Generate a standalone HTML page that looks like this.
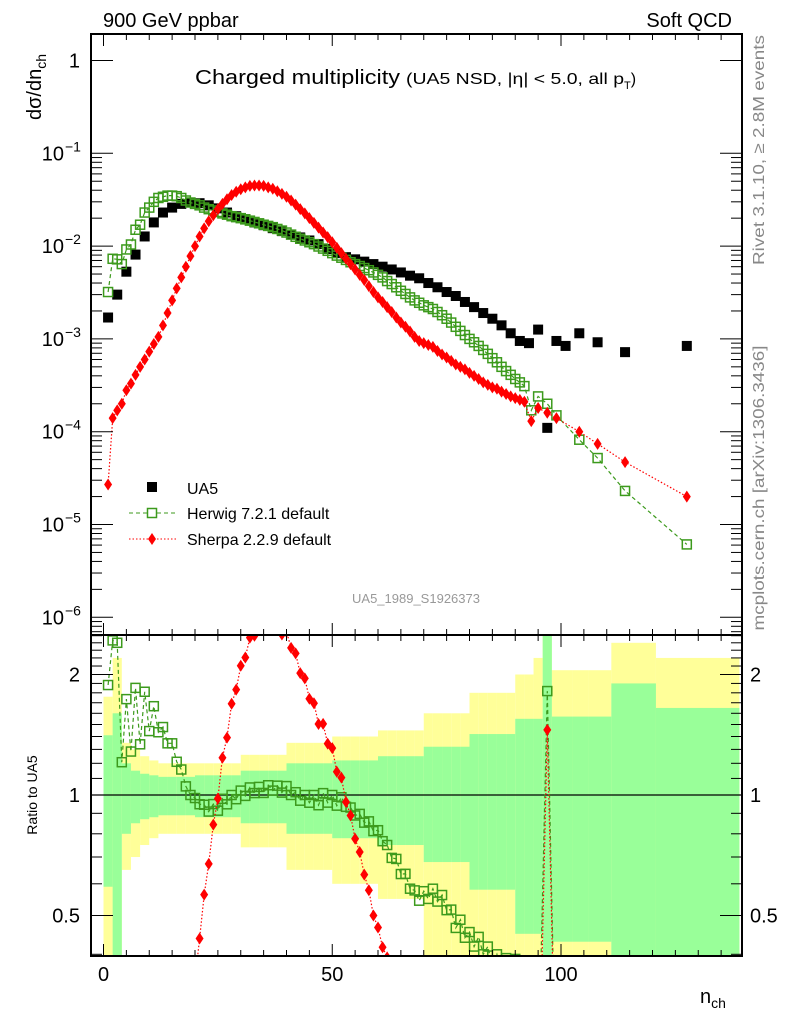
<!DOCTYPE html>
<html><head><meta charset="utf-8"><style>
html,body{margin:0;background:#fff;width:786px;height:1024px;overflow:hidden;}
svg{display:block;font-family:"Liberation Sans",Arial,sans-serif;}
</style></head><body>
<svg id="chart" width="786" height="1024" viewBox="0 0 786 1024" xmlns="http://www.w3.org/2000/svg">
<defs>
<clipPath id="cm"><rect x="91" y="34" width="651" height="601"/></clipPath>
<clipPath id="cr"><rect x="91" y="635" width="651" height="321"/></clipPath>
</defs>
<g id="bands" clip-path="url(#cr)"></g>
<g id="main" clip-path="url(#cm)"></g>
<g id="ratio" clip-path="url(#cr)"></g>
<g id="axes"></g>
<text x="103" y="27" font-size="20">900 GeV ppbar</text>
<text x="732" y="27" font-size="20" text-anchor="end">Soft QCD</text>
<text x="195" y="84" font-size="20" textLength="205" lengthAdjust="spacingAndGlyphs">Charged multiplicity</text>
<text x="406" y="84" font-size="16"><tspan textLength="218" lengthAdjust="spacingAndGlyphs">(UA5 NSD, |η| &lt; 5.0, all p</tspan><tspan font-size="11" dy="5">T</tspan><tspan dy="-5">)</tspan></text>
<text x="416" y="603" font-size="13" fill="#999" text-anchor="middle">UA5_1989_S1926373</text>
<text transform="translate(764,150) rotate(-90)" font-size="16" fill="#888" text-anchor="middle" textLength="230" lengthAdjust="spacingAndGlyphs">Rivet 3.1.10, ≥ 2.8M events</text>
<text transform="translate(764,488) rotate(-90)" font-size="16" fill="#888" text-anchor="middle" textLength="285" lengthAdjust="spacingAndGlyphs">mcplots.cern.ch [arXiv:1306.3436]</text>
<text transform="translate(41,87) rotate(-90)" font-size="20" text-anchor="middle">dσ/dn<tspan font-size="14" dy="5">ch</tspan></text>
<text transform="translate(37,795) rotate(-90)" font-size="14" text-anchor="middle">Ratio to UA5</text>
<text x="700" y="1003" font-size="20">n<tspan font-size="14" dy="5">ch</tspan></text>
<g>
<rect x="147" y="482" width="10" height="10" fill="#000"/>
<text x="187" y="494" font-size="16">UA5</text>
<line x1="129" y1="513" x2="176" y2="513" stroke="#3c9a1c" stroke-dasharray="4,3"/>
<rect x="147.5" y="508.5" width="9" height="9" fill="#fff" stroke="#3c9a1c" stroke-width="1.5"/>
<text x="187" y="519" font-size="16">Herwig 7.2.1 default</text>
<line x1="129" y1="539" x2="176" y2="539" stroke="#f00" stroke-dasharray="1.5,2"/>
<path d="M152,533 L156,539 L152,545 L148,539 Z" fill="#f00"/>
<text x="187" y="545" font-size="16">Sherpa 2.2.9 default</text>
</g>
</svg>
<script>
const dataN=[1,3,5,7,9,11,13,15,17,19,21,23,25,27,29,31,33,35,37,39,41,43,45,47,49,51,53,55,57,59,61,63,65,67,69,71,73,75,77,79,81,83,85,87,89,91,93,95,97,99,101,104,108,114,127.5];
const dataV=[1.7e-3,3.0e-3,5.3e-3,8.1e-3,1.27e-2,1.8e-2,2.3e-2,2.6e-2,2.85e-2,2.95e-2,2.9e-2,2.75e-2,2.55e-2,2.3e-2,2.1e-2,1.95e-2,1.8e-2,1.68e-2,1.56e-2,1.45e-2,1.33e-2,1.24e-2,1.15e-2,1.05e-2,9.3e-3,8.4e-3,7.6e-3,7.2e-3,6.8e-3,6.4e-3,6.0e-3,5.6e-3,5.2e-3,4.8e-3,4.5e-3,4.0e-3,3.6e-3,3.2e-3,2.9e-3,2.5e-3,2.2e-3,1.9e-3,1.65e-3,1.4e-3,1.15e-3,9.5e-4,9e-4,1.26e-3,1.1e-4,9.5e-4,8.4e-4,1.15e-3,9.2e-4,7.2e-4,8.4e-4];
const statErr=[.41,.6,.2,.15,.13,.12,.11,.11,.11,.11,.12,.12,.12,.12,.12,.15,.15,.15,.15,.15,.2,.2,.2,.2,.2,.22,.22,.22,.22,.22,.25,.25,.25,.25,.25,.32,.32,.32,.32,.32,.42,.42,.42,.42,.42,.55,.55,.55,2.0,.57,.57,.57,.57,.9,.65];
const totErr=[.76,1.2,.35,.3,.25,.22,.2,.2,.2,.2,.2,.2,.2,.2,.2,.26,.26,.26,.26,.26,.35,.35,.35,.35,.35,.4,.4,.4,.4,.4,.45,.45,.45,.45,.45,.6,.6,.6,.6,.6,.8,.8,.8,.8,.8,1.0,1.0,1.2,2.0,1.05,1.05,1.05,1.05,1.4,1.2];
const mcN=[1,2,3,4,5,6,7,8,9,10,11,12,13,14,15,16,17,18,19,20,21,22,23,24,25,26,27,28,29,30,31,32,33,34,35,36,37,38,39,40,41,42,43,44,45,46,47,48,49,50,51,52,53,54,55,56,57,58,59,60,61,62,63,64,65,66,67,68,69,70,71,72,73,74,75,76,77,78,79,80,81,82,83,84,85,86,87,88,89,90,91,92,93.5,95,97,99,104,108,114,127.5];
const herwigV=[3.2e-3,7.3e-3,7.2e-3,6.4e-3,9.2e-3,1.04e-2,1.5e-2,1.7e-2,2.3e-2,2.6e-2,3.0e-2,3.3e-2,3.4e-2,3.5e-2,3.5e-2,3.45e-2,3.3e-2,3.1e-2,2.95e-2,2.85e-2,2.75e-2,2.6e-2,2.5e-2,2.42e-2,2.33e-2,2.25e-2,2.18e-2,2.1e-2,2.05e-2,2.0e-2,1.94e-2,1.88e-2,1.82e-2,1.76e-2,1.7e-2,1.65e-2,1.6e-2,1.53e-2,1.47e-2,1.4e-2,1.33e-2,1.26e-2,1.2e-2,1.15e-2,1.1e-2,1.05e-2,9.9e-3,9.4e-3,8.9e-3,8.4e-3,7.9e-3,7.5e-3,7.1e-3,6.7e-3,6.4e-3,6.1e-3,5.8e-3,5.5e-3,5.2e-3,4.9e-3,4.6e-3,4.2e-3,3.9e-3,3.6e-3,3.3e-3,3.05e-3,2.8e-3,2.6e-3,2.45e-3,2.3e-3,2.2e-3,2.1e-3,1.95e-3,1.8e-3,1.65e-3,1.5e-3,1.35e-3,1.22e-3,1.1e-3,1.0e-3,9.2e-4,8.4e-4,7.6e-4,6.9e-4,6.2e-4,5.6e-4,5.0e-4,4.5e-4,4.1e-4,3.7e-4,3.4e-4,3.1e-4,1.7e-4,2.4e-4,2.0e-4,1.5e-4,8.2e-5,5.2e-5,2.3e-5,6.1e-6];
const sherpaV=[2.7e-5,1.4e-4,1.7e-4,2.0e-4,2.8e-4,3.3e-4,4.1e-4,5.0e-4,6.0e-4,7.3e-4,8.8e-4,1.05e-3,1.4e-3,1.9e-3,2.6e-3,3.5e-3,4.6e-3,6.0e-3,7.8e-3,1.0e-2,1.27e-2,1.55e-2,1.85e-2,2.15e-2,2.5e-2,2.85e-2,3.2e-2,3.55e-2,3.85e-2,4.1e-2,4.3e-2,4.45e-2,4.5e-2,4.5e-2,4.45e-2,4.3e-2,4.15e-2,3.9e-2,3.65e-2,3.4e-2,3.1e-2,2.8e-2,2.5e-2,2.25e-2,2.0e-2,1.78e-2,1.58e-2,1.4e-2,1.25e-2,1.1e-2,9.6e-3,8.4e-3,7.3e-3,6.4e-3,5.6e-3,4.9e-3,4.3e-3,3.7e-3,3.2e-3,2.8e-3,2.5e-3,2.2e-3,1.95e-3,1.7e-3,1.5e-3,1.35e-3,1.2e-3,1.05e-3,9.5e-4,9.0e-4,8.6e-4,8.2e-4,7.4e-4,6.8e-4,6.3e-4,5.8e-4,5.3e-4,5.0e-4,4.7e-4,4.3e-4,4.0e-4,3.7e-4,3.4e-4,3.2e-4,3.0e-4,2.9e-4,2.7e-4,2.55e-4,2.4e-4,2.3e-4,2.2e-4,2.1e-4,1.3e-4,1.8e-4,1.6e-4,1.4e-4,1.0e-4,7.4e-5,4.7e-5,2.0e-5];
const yMainTicks=["1","10","10","10","10","10","10"];
const yMainExp=["","−1","−2","−3","−4","−5","−6"];
const xTickLabels=[0,50,100];
const ratioTicks=[0.5,1,2];

const NS="http://www.w3.org/2000/svg";
const X=n=>103.5+4.575*n;
const Y=v=>60.5-92.8*Math.log10(v);
const R=r=>795-120.5*Math.log2(r);
function mk(tag,attrs,parent){const e=document.createElementNS(NS,tag);for(const k in attrs)e.setAttribute(k,attrs[k]);parent.appendChild(e);return e;}
const gMain=document.getElementById('main'),gRatio=document.getElementById('ratio'),gBands=document.getElementById('bands'),gAx=document.getElementById('axes');

const edges=[];
for(let i=0;i<dataN.length;i++){
  const lo=i===0?dataN[0]-1:(dataN[i-1]+dataN[i])/2;
  const hi=i===dataN.length-1?dataN[i]+(dataN[i]-dataN[i-1])*4:(dataN[i]+dataN[i+1])/2;
  edges.push([lo,Math.min(hi,139)]);
}
function dataAt(n){for(let i=0;i<edges.length;i++){if(n>=edges[i][0]&&n<edges[i][1])return dataV[i];}return null;}

[[totErr,'#ffff99'],[statErr,'#99ff99']].forEach(([err,col],k)=>{
  for(let i=0;i<dataN.length;i++){
    const up=R(1+err[i]);const lo=err[i]>=0.6?960:R(1-err[i]);
    const b=mk('rect',{x:X(edges[i][0]),y:up,width:X(edges[i][1])-X(edges[i][0]),height:lo-up,fill:col},gBands);
    
    
  }
});
mk('line',{x1:91,y1:795,x2:742,y2:795,stroke:'#000','stroke-width':1.2},gBands);

function series(g,xs,ys,color,dash,kind,name){
  let d='';xs.forEach((n,i)=>{if(ys[i]==null)return;d+=(d?'L':'M')+X(n).toFixed(1)+','+ys[i].toFixed(1);});
  const l=mk('path',{d:d,fill:'none',stroke:color,'stroke-width':1.2,'stroke-dasharray':dash},g);
  
  
  xs.forEach((n,i)=>{if(ys[i]==null)return;const x=X(n),y=ys[i];let m;
    if(kind==='sq')m=mk('rect',{x:x-4.5,y:y-4.5,width:9,height:9,fill:'none',stroke:color,'stroke-width':1.5},g);
    else m=mk('path',{d:`M${x},${y-6}L${x+4},${y}L${x},${y+6}L${x-4},${y}Z`,fill:color},g);
    
    
  });
}
dataN.forEach((n,i)=>{const m=mk('rect',{x:X(n)-5,y:Y(dataV[i])-5,width:10,height:10,fill:'#000'},gMain);
  
  });
series(gMain,mcN,herwigV.map(Y),'#3c9a1c','4,3','sq','herwig');
series(gMain,mcN,sherpaV.map(Y),'#f00','1.5,2','di','sherpa');
const hr=mcN.map((n,i)=>{const d=dataAt(n);return d?R(herwigV[i]/d):null;});
const sr=mcN.map((n,i)=>{const d=dataAt(n);return d?R(sherpaV[i]/d):null;});
series(gRatio,mcN,hr,'#3c9a1c','4,3','sq','herwig-ratio');
series(gRatio,mcN,sr,'#f00','1.5,2','di','sherpa-ratio');

[[34,635],[635,956]].forEach(([t,b])=>mk('rect',{x:91,y:t,width:651,height:b-t,fill:'none',stroke:'#000','stroke-width':2},gAx));
for(let n=0;n<=135;n+=5){const x=X(n),maj=n%50===0;
  [[635,956],[34,635]].forEach(([t,b])=>{
    mk('line',{x1:x,y1:b,x2:x,y2:b-(maj?12:6),stroke:'#000'},gAx);
    mk('line',{x1:x,y1:t,x2:x,y2:t+(maj?12:6),stroke:'#000'},gAx);});
}
xTickLabels.forEach(n=>{const t=mk('text',{x:X(n),y:981,'font-size':20,'text-anchor':'middle'},gAx);t.textContent=n;
  
  });
for(let e=0;e>=-6;e--){for(let m=1;m<10;m++){
  if(m>1&&e===0)continue;const vv=m===1?Math.pow(10,e):m*Math.pow(10,e-1);
  const y=Y(vv);if(y<34||y>635)continue;const len=m===1?22:11;
  mk('line',{x1:91,y1:y,x2:91+len,y2:y,stroke:'#000'},gAx);mk('line',{x1:742,y1:y,x2:742-len,y2:y,stroke:'#000'},gAx);}}
for(let m=2;m<10;m++){const y=Y(m);if(y>=34){mk('line',{x1:91,y1:y,x2:102,y2:y,stroke:'#000'},gAx);mk('line',{x1:742,y1:y,x2:731,y2:y,stroke:'#000'},gAx);}}
yMainTicks.forEach((b,i)=>{const y=Y(Math.pow(10,-i))+7;const t=mk('text',{x:i?64:80,y:y,'font-size':20,'text-anchor':'end'},gAx);t.textContent=b;
  
  
  if(yMainExp[i]){const s=mk('text',{x:65,y:y-9,'font-size':14},gAx);s.textContent=yMainExp[i];}});
[0.4,0.5,0.6,0.7,0.8,0.9,1,1.1,1.2,1.3,1.4,1.5,1.6,1.7,1.8,1.9,2,2.1,2.2,2.3,2.4,2.5].forEach(r=>{const y=R(r);if(y<635||y>956)return;const maj=ratioTicks.includes(r);const len=maj?22:11;
  mk('line',{x1:91,y1:y,x2:91+len,y2:y,stroke:'#000'},gAx);mk('line',{x1:742,y1:y,x2:742-len,y2:y,stroke:'#000'},gAx);});
ratioTicks.forEach(r=>{const y=R(r)+7;
  const a=mk('text',{x:80,y:y,'font-size':20,'text-anchor':'end'},gAx);a.textContent=r;
  
  
  const b=mk('text',{x:750,y:y,'font-size':20},gAx);b.textContent=r;
  
  });
</script>
</body></html>
